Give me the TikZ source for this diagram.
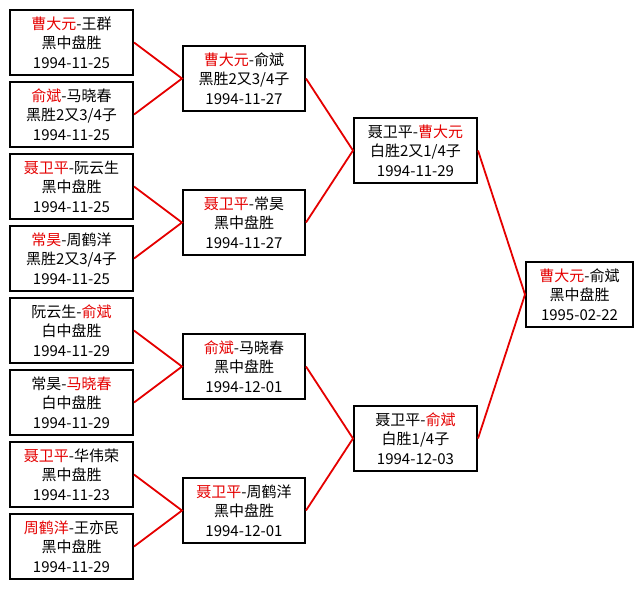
\documentclass[tikz,border=0pt]{standalone}
\usepackage{fontspec}
\setmainfont{Noto Sans CJK SC}
\begin{document}
\begin{tikzpicture}[x=1pt,y=-1pt,
  game/.style={draw=black,line width=2pt,fill=white,inner sep=0pt,align=center,
    minimum width=123pt,minimum height=65pt,
    font=\fontsize{15}{19.5}\selectfont},
  link/.style={draw=red!90!black,line width=1.8pt}]
\useasboundingbox (0,0) rectangle (643,589);
\fill[white] (0,0) rectangle (643,589);
\newcommand{\rn}[1]{\textcolor{red!90!black}{#1}}
% column 1
\node[game] (a1) at (71.5,42.5) {\rn{曹大元}-王群\\黑中盘胜\\1994-11-25};
\node[game] (a2) at (71.5,114.5) {\rn{俞斌}-马晓春\\黑胜2又3/4子\\1994-11-25};
\node[game] (a3) at (71.5,186.5) {\rn{聂卫平}-阮云生\\黑中盘胜\\1994-11-25};
\node[game] (a4) at (71.5,258.5) {\rn{常昊}-周鹤洋\\黑胜2又3/4子\\1994-11-25};
\node[game] (a5) at (71.5,330.5) {阮云生-\rn{俞斌}\\白中盘胜\\1994-11-29};
\node[game] (a6) at (71.5,402.5) {常昊-\rn{马晓春}\\白中盘胜\\1994-11-29};
\node[game] (a7) at (71.5,474.5) {\rn{聂卫平}-华伟荣\\黑中盘胜\\1994-11-23};
\node[game] (a8) at (71.5,546.5) {\rn{周鹤洋}-王亦民\\黑中盘胜\\1994-11-29};
% column 2
\node[game,minimum width=122pt] (b1) at (244,78.5) {\rn{曹大元}-俞斌\\黑胜2又3/4子\\1994-11-27};
\node[game,minimum width=122pt] (b2) at (244,222.5) {\rn{聂卫平}-常昊\\黑中盘胜\\1994-11-27};
\node[game,minimum width=122pt] (b3) at (244,366.5) {\rn{俞斌}-马晓春\\黑中盘胜\\1994-12-01};
\node[game,minimum width=122pt] (b4) at (244,510.5) {\rn{聂卫平}-周鹤洋\\黑中盘胜\\1994-12-01};
% column 3
\node[game] (c1) at (415.5,150.5) {聂卫平-\rn{曹大元}\\白胜2又1/4子\\1994-11-29};
\node[game] (c2) at (415.5,438.5) {聂卫平-\rn{俞斌}\\白胜1/4子\\1994-12-03};
% final
\node[game,minimum width=107pt] (d1) at (579.5,294.5) {\rn{曹大元}-俞斌\\黑中盘胜\\1995-02-22};
% connectors
\draw[link] (a1.east) -- (b1.west) -- (a2.east);
\draw[link] (a3.east) -- (b2.west) -- (a4.east);
\draw[link] (a5.east) -- (b3.west) -- (a6.east);
\draw[link] (a7.east) -- (b4.west) -- (a8.east);
\draw[link] (b1.east) -- (c1.west) -- (b2.east);
\draw[link] (b3.east) -- (c2.west) -- (b4.east);
\draw[link] (c1.east) -- (d1.west) -- (c2.east);
\end{tikzpicture}
\end{document}
